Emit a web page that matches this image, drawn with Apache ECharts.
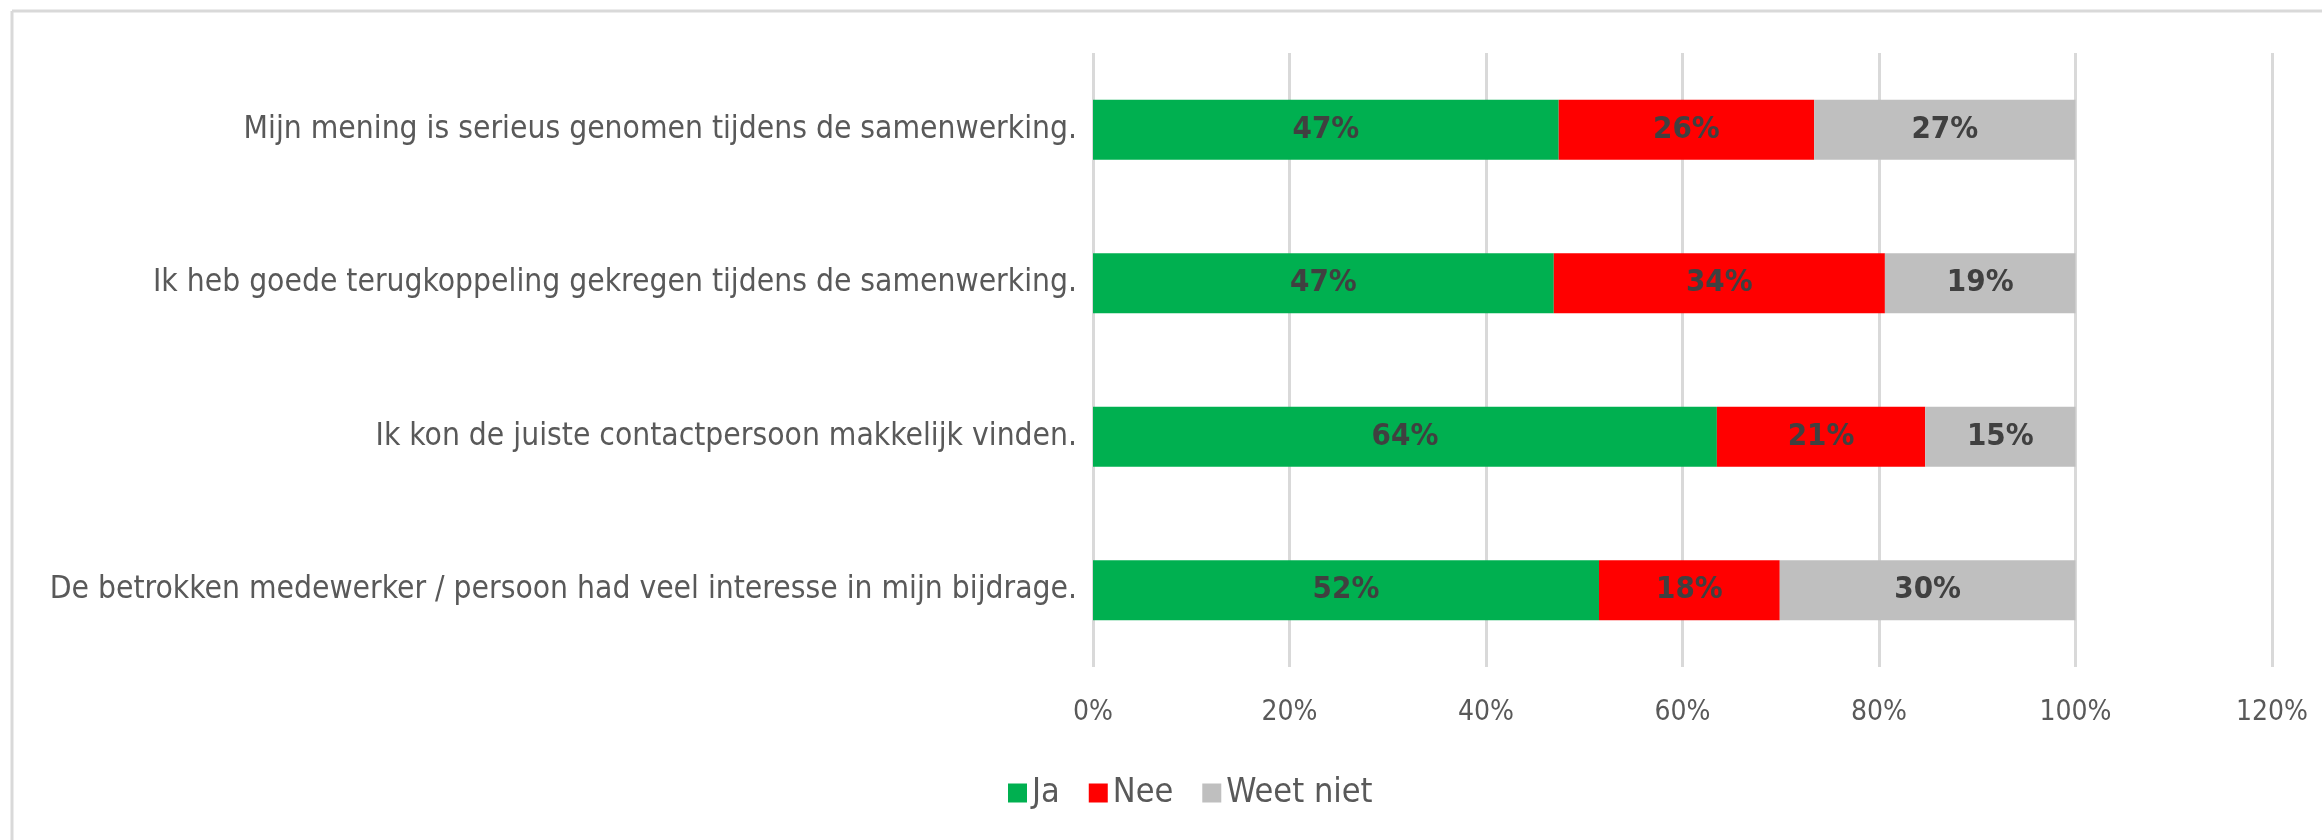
<!DOCTYPE html>
<html>
<head>
<meta charset="utf-8">
<title>Samenwerking</title>
<script src="https://cdn.jsdelivr.net/npm/echarts@6/dist/echarts.min.js"></script>
<style>
  html, body { margin: 0; padding: 0; background: #fff; }
  #chart { width: 2322px; height: 840px; }
</style>
</head>
<body>
<div id="chart"></div>
<script>
const questions = [
  'Mijn mening is serieus genomen tijdens de samenwerking.',
  'Ik heb goede terugkoppeling gekregen tijdens de samenwerking.',
  'Ik kon de juiste contactpersoon makkelijk vinden.',
  'De betrokken medewerker / persoon had veel interesse in mijn bijdrage.'
];
const ja = [47.4, 46.9, 63.5, 51.5];
const nee = [26.0, 33.7, 21.2, 18.4];
const weetNiet = [26.6, 19.4, 15.3, 30.1];
const seriesNames = ['Ja', 'Nee', 'Weet niet'];

const font = '"Liberation Sans Narrow", "DejaVu Sans Condensed", sans-serif';
const colors = ['#00b050', '#ff0000', '#bfbfbf'];

const chart = echarts.init(document.getElementById('chart'), null, { renderer: 'canvas' });

const barSeries = (name, data, color) => ({
  name,
  type: 'bar',
  stack: 'total',
  data,
  barWidth: 60,
  itemStyle: { color },
  label: {
    show: true,
    position: 'inside',
    color: '#404040',
    fontFamily: font,
    fontWeight: 'bold',
    fontSize: 31,
    formatter: (p) => `${Math.round(p.value)}%`
  }
});

chart.setOption({
  animation: false,
  backgroundColor: '#fff',
  textStyle: { fontFamily: font },
  color: colors,
  graphic: [
    { type: 'line', shape: { x1: 12, y1: 11, x2: 2322, y2: 11 }, style: { stroke: '#d9d9d9', lineWidth: 3 } },
    { type: 'line', shape: { x1: 12, y1: 11, x2: 12, y2: 840 }, style: { stroke: '#d9d9d9', lineWidth: 3 } }
  ],
  legend: {
    data: seriesNames,
    left: 1003,
    top: 771,
    itemWidth: 19,
    itemHeight: 19,
    itemGap: 29,
    icon: 'rect',
    textStyle: { color: '#595959', fontFamily: font, fontSize: 34 }
  },
  grid: { left: 1093, right: 50, top: 53, bottom: 173 },
  xAxis: {
    type: 'value',
    min: 0,
    max: 120,
    interval: 20,
    axisLine: { show: false },
    axisTick: { show: false },
    axisLabel: {
      color: '#595959',
      fontFamily: font,
      fontSize: 28,
      margin: 32,
      formatter: '{value}%'
    },
    splitLine: { lineStyle: { color: '#d9d9d9', width: 3 } }
  },
  yAxis: {
    type: 'category',
    inverse: true,
    data: questions,
    axisLine: { show: false },
    axisTick: { show: false },
    axisLabel: { color: '#595959', fontFamily: font, fontSize: 31.5, margin: 16 }
  },
  series: [
    barSeries(seriesNames[0], ja, colors[0]),
    barSeries(seriesNames[1], nee, colors[1]),
    barSeries(seriesNames[2], weetNiet, colors[2])
  ]
});
</script>
</body>
</html>
